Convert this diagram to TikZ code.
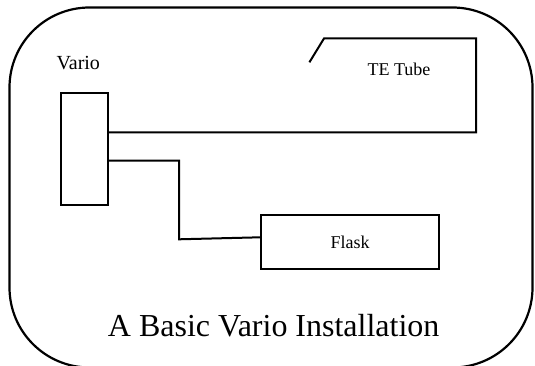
\documentclass[tikz,border=0pt]{standalone}
\usepackage{fontspec}
\setmainfont{Liberation Serif}
\begin{document}
\begin{tikzpicture}[x=1pt,y=1pt,
  frame/.style={draw=black,line width=2.2pt},
  unit/.style={draw=black,line width=2pt,inner sep=0pt,fill=white},
  pipe/.style={draw=black,line width=2pt,line join=miter},
  label/.style={font=\fontsize{18}{20}\selectfont,inner sep=0pt,anchor=base},
  title/.style={font=\fontsize{32}{36}\selectfont,inner sep=0pt,anchor=base}]
  \useasboundingbox (0,0) rectangle (535,-366);
  \clip (0,0) rectangle (535,-366);
  % outer rounded frame (its bottom edge runs just off the page)
  \draw[frame,rounded corners=80pt] (9.5,-7.5) rectangle (532.5,-367.5);

  % the vario and the flask
  \node[unit,minimum width=47pt,minimum height=112.3pt] (vario) at (84.2,-148.9) {};
  \node[unit,minimum width=177.8pt,minimum height=54.3pt,
        font=\fontsize{18}{20}\selectfont] (flask) at (350.2,-242.15) {Flask};

  % labels
  \node[label,font=\fontsize{20}{22}\selectfont] (variolbl) at (78.3,-69.3) {Vario};
  \node[label] (tubelbl) at (399,-75.7) {TE Tube};
  \node[title] (caption) at (273.7,-336.7) {A Basic Vario Installation};

  % TE tube: from the vario round to its open end
  \coordinate (tubeend) at (309.4,-62.3);
  \draw[pipe] (vario.east |- 0,-132.3) -- (476,-132.3) -- (476,-38.3)
    -- (324.1,-38.3) -- (tubeend);

  % line from the vario to the flask
  \draw[pipe] (vario.east |- 0,-160.7) -- (179,-160.7) -- (179,-239.3)
    -- (flask.west |- 0,-237.3);
\end{tikzpicture}
\end{document}
